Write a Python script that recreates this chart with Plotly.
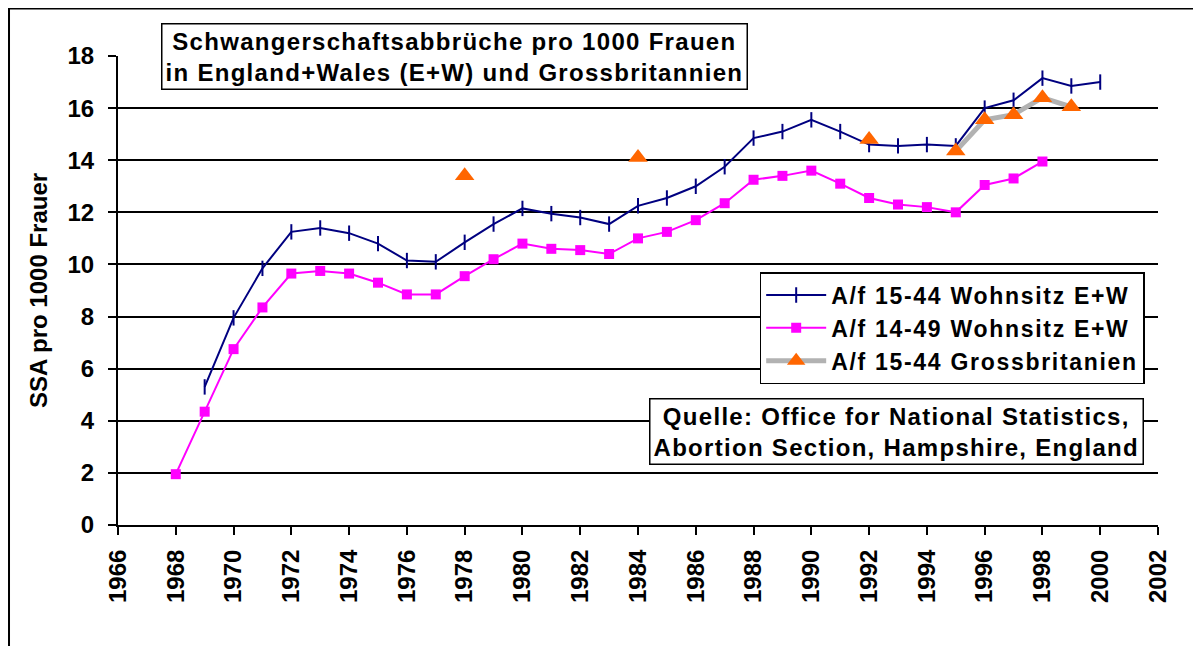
import plotly.graph_objects as go

# Jahre und Werte
years = list(range(1968, 2001))

ew_15_44 = [None, 5.3, 7.95, 9.85, 11.25, 11.4, 11.2, 10.8, 10.15, 10.1,
            10.85, 11.55, 12.15, 11.95, 11.8, 11.55, 12.25, 12.55, 13.0, 13.75,
            14.85, 15.1, 15.55, 15.1, 14.6, 14.55, 14.6, 14.55, 16.0, 16.3,
            17.15, 16.85, 17.0]

ew_14_49 = [1.95, 4.35, 6.75, 8.35, 9.65, 9.75, 9.65, 9.3, 8.85, 8.85,
            9.55, 10.2, 10.8, 10.6, 10.55, 10.4, 11.0, 11.25, 11.7, 12.35,
            13.25, 13.4, 13.6, 13.1, 12.55, 12.3, 12.2, 12.0, 13.05, 13.3,
            13.95, None, None]

gb_15_44 = [None, None, None, None, None, None, None, None, None, None,
            13.4, None, None, None, None, None, 14.1, None, None, None,
            None, None, None, None, 14.8, None, None, 14.35, 15.55, 15.75,
            16.4, 16.05, None]

series_names = ["A/f 15-44 Wohnsitz E+W", "A/f 14-49 Wohnsitz E+W", "A/f 15-44 Grossbritanien"]

title_lines = ["Schwangerschaftsabbrüche pro 1000 Frauen",
               "in England+Wales (E+W) und Grossbritannien"]
source_lines = ["Quelle: Office for National Statistics,",
                "Abortion Section, Hampshire, England"]
y_title = "SSA pro 1000 Frauer"

FONT = "Liberation Sans, Arial, sans-serif"


def spaced(s, px=1.3):
    return f'<span style="letter-spacing:{px}px">{s}</span>'


fig = go.Figure()

fig.add_trace(go.Scatter(
    x=years, y=ew_15_44, name=spaced(series_names[0], 1.7), mode="lines+markers",
    line=dict(color="#000080", width=2),
    marker=dict(symbol="line-ns", size=11, line=dict(color="#000080", width=2)),
    connectgaps=False
))
fig.add_trace(go.Scatter(
    x=years, y=ew_14_49, name=spaced(series_names[1], 1.7), mode="lines+markers",
    line=dict(color="#FF00FF", width=2),
    marker=dict(symbol="square", size=10, color="#FF00FF"),
    connectgaps=False
))
fig.add_trace(go.Scatter(
    x=years, y=gb_15_44, name=spaced(series_names[2], 1.7), mode="lines+markers",
    line=dict(color="#B2B2B2", width=5),
    marker=dict(symbol="triangle-up", size=17, color="#FF6600"),
    connectgaps=False
))

# äusserer Rahmen (Seite hat 8px Rand, daher beginnt die Figur dort)
fig.add_shape(type="rect", xref="paper", yref="paper",
              x0=-0.1048, x1=1.1, y0=-0.3, y1=1.1013,
              line=dict(color="black", width=2), fillcolor="rgba(0,0,0,0)")

fig.add_annotation(
    xref="paper", yref="paper", x=0.3236, y=0.998, xanchor="center", yanchor="middle",
    text="<br>".join(spaced(t) for t in title_lines), showarrow=False, align="center",
    font=dict(family=FONT, size=24, color="black", weight="bold"),
    bgcolor="white", bordercolor="black", borderwidth=1.5, borderpad=3
)
fig.add_annotation(
    xref="paper", yref="paper", x=0.7486, y=0.1994, xanchor="center", yanchor="middle",
    text="<br>".join(spaced(t) for t in source_lines), showarrow=False, align="center",
    font=dict(family=FONT, size=24, color="black", weight="bold"),
    bgcolor="white", bordercolor="black", borderwidth=1.5, borderpad=3
)

fig.update_layout(
    width=1193, height=638,
    margin=dict(l=110, r=43, t=48, b=121),
    paper_bgcolor="white", plot_bgcolor="white",
    font=dict(family=FONT, size=24, color="black", weight="bold"),
    showlegend=True,
    legend=dict(
        x=0.617, y=0.5394, xanchor="left", yanchor="top",
        bgcolor="white", bordercolor="black", borderwidth=1.5,
        font=dict(family=FONT, size=23, color="black", weight="bold"),
        itemwidth=60, tracegroupgap=0
    ),
    xaxis=dict(
        range=[1966, 2002], dtick=2, tick0=1966, tickangle=-90,
        showgrid=False, zeroline=False,
        showline=True, linecolor="black", linewidth=2,
        ticks="outside", ticklen=8, tickwidth=2, tickcolor="black",
        ticklabelstandoff=5,
        tickfont=dict(family=FONT, size=24, color="black", weight="bold")
    ),
    yaxis=dict(
        range=[0, 18], dtick=2, tick0=0,
        showgrid=True, gridcolor="black", gridwidth=1.8, zeroline=False,
        showline=True, linecolor="black", linewidth=2,
        ticks="outside", ticklen=8, tickwidth=2, tickcolor="black",
        ticklabelstandoff=9,
        tickfont=dict(family=FONT, size=24, color="black", weight="bold"),
        title=dict(text=y_title, standoff=13,
                   font=dict(family=FONT, size=24, color="black", weight="bold"))
    ),
)

fig.write_html("out.html")
